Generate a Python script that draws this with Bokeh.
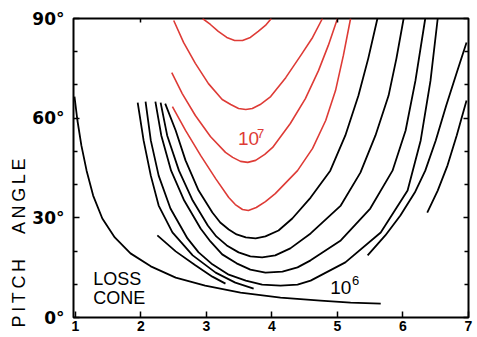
from bokeh.plotting import figure
from bokeh.models import Range1d, FixedTicker, LinearAxis, Label
from bokeh.embed import file_html
from bokeh.resources import INLINE

# ---- data (L shell vs equatorial pitch angle, degrees) ----
x_ticks = [1, 2, 3, 4, 5, 6, 7]
y_ticks = [0, 30, 60, 90]
y_tick_labels = ["0°", "30°", "60°", "90°"]
y_minor = [10, 20, 40, 50, 70, 80]

# red contours (>= 1e7)
r1_L = [2.94, 3.06, 3.18, 3.31, 3.43, 3.55, 3.67, 3.79, 3.90, 3.99]
r1_a = [90.0, 88.2, 86.1, 84.3, 83.4, 83.4, 84.3, 86.1, 87.9, 90.0]
r2_L = [2.50, 2.65, 2.83, 3.03, 3.24, 3.37, 3.49, 3.60, 3.70, 3.82, 3.98, 4.21, 4.44, 4.62, 4.77]
r2_a = [89.4, 82.8, 76.5, 70.4, 65.6, 64.1, 62.9, 62.6, 62.9, 64.1, 66.5, 72.2, 78.9, 84.3, 90.0]
r3_L = [2.47, 2.63, 2.83, 3.06, 3.29, 3.40, 3.52, 3.63, 3.75, 3.89, 4.01, 4.28, 4.51, 4.71, 4.86, 5.00]
r3_a = [73.7, 67.4, 60.8, 54.5, 49.7, 48.2, 47.0, 46.7, 47.3, 49.1, 51.2, 58.4, 65.9, 74.3, 81.9, 90.0]
r4_L = [2.48, 2.68, 2.91, 3.14, 3.34, 3.44, 3.55, 3.64, 3.76, 3.90, 4.05, 4.39, 4.62, 4.82, 4.97, 5.09, 5.20]
r4_a = [63.5, 56.3, 48.8, 41.8, 36.1, 34.0, 32.5, 32.2, 33.1, 34.9, 37.3, 44.2, 50.9, 59.3, 68.3, 78.9, 90.0]

# black contours
b1_L = [2.37, 2.53, 2.68, 2.88, 3.09, 3.21, 3.34, 3.46, 3.60, 3.75, 3.90, 4.10, 4.31, 4.59,
        4.89, 5.12, 5.32, 5.47, 5.61]
b1_a = [64.4, 56.3, 47.3, 38.2, 31.6, 28.6, 26.5, 25.0, 24.1, 23.8, 24.4, 26.2, 29.8, 36.1,
        44.2, 54.8, 66.8, 78.0, 90.0]
b2_L = [2.30, 2.40, 2.58, 2.79, 3.02, 3.15, 3.31, 3.49, 3.67, 3.85, 4.05, 4.28, 4.59,
        5.05, 5.35, 5.58, 5.78, 5.90, 6.01]
b2_a = [64.7, 54.8, 44.2, 35.2, 27.7, 24.4, 21.7, 19.6, 18.4, 18.1, 18.7, 20.8, 25.3,
        33.7, 43.6, 54.8, 66.8, 78.0, 90.0]
b3_L = [2.22, 2.31, 2.46, 2.66, 2.91, 3.06, 3.24, 3.46, 3.67, 3.90, 4.16, 4.39, 4.59,
        5.05, 5.50, 5.84, 6.04, 6.19, 6.34]
b3_a = [65.0, 54.8, 44.2, 35.2, 26.8, 22.9, 19.0, 16.3, 14.4, 13.5, 13.8, 15.1, 17.2,
        23.2, 32.8, 44.2, 56.3, 71.3, 90.0]
b4_L = [2.07, 2.15, 2.27, 2.45, 2.71, 2.88, 3.09, 3.34, 3.60, 3.85, 4.13, 4.39, 4.59,
        5.12, 5.66, 6.07, 6.27, 6.42, 6.53]
b4_a = [65.0, 53.3, 42.7, 32.8, 23.8, 19.6, 16.0, 12.9, 11.1, 9.9, 9.6, 9.9, 11.1,
        16.6, 25.6, 38.2, 53.3, 71.3, 90.0]
k1_L = [1.95, 2.04, 2.15, 2.27, 2.48, 2.79, 3.14, 3.44, 3.72]
k1_a = [64.7, 53.3, 42.7, 33.7, 25.6, 18.7, 13.5, 10.5, 8.7]
s1_L = [2.25, 2.53, 2.83, 3.09, 3.29]
s1_a = [24.7, 19.9, 15.7, 12.3, 10.2]
a_L = [5.46, 5.73, 5.96, 6.18, 6.34, 6.50, 6.66, 6.82, 6.97]
a_a = [18.7, 24.7, 30.7, 37.6, 44.2, 53.3, 63.8, 73.7, 82.8]
c_L = [6.37, 6.53, 6.68, 6.82, 6.97]
c_a = [31.6, 38.2, 45.8, 54.8, 65.3]
lc_L = [0.985, 1.03, 1.09, 1.17, 1.27, 1.41, 1.60, 1.84, 2.15, 2.53, 2.98, 3.52, 4.13, 4.74, 5.20, 5.66]
lc_a = [66.5, 59.3, 51.8, 44.2, 36.7, 29.8, 24.1, 19.3, 15.4, 12.0, 9.6, 7.5, 6.0, 5.1, 4.5, 4.2]

red_curves = [(r1_L, r1_a), (r2_L, r2_a), (r3_L, r3_a), (r4_L, r4_a)]
black_curves = [(b1_L, b1_a), (b2_L, b2_a), (b3_L, b3_a), (b4_L, b4_a),
                (k1_L, k1_a), (s1_L, s1_a), (a_L, a_a), (c_L, c_a), (lc_L, lc_a)]

RED = "#de3b36"
FONT = "Liberation Sans"
NB = "\u00a0"
TS = "\u2009"

p = figure(width=477, height=337, output_backend="svg", toolbar_location=None,
           x_range=Range1d(0.97, 7.0), y_range=Range1d(0, 90),
           min_border_left=73, min_border_right=9, min_border_top=18, min_border_bottom=20)
p.background_fill_color = "white"
p.border_fill_color = "white"
p.grid.visible = False
p.outline_line_color = "black"
p.outline_line_width = 2

for xs, ys in red_curves:
    p.line(xs, ys, line_color=RED, line_width=1.6, line_join="round")
for xs, ys in black_curves:
    p.line(xs, ys, line_color="black", line_width=1.8, line_join="round")

# axes
xt = FixedTicker(ticks=x_ticks, minor_ticks=[])
yt = FixedTicker(ticks=y_ticks, minor_ticks=y_minor)

xa = p.xaxis[0]
xa.ticker = xt
ya = p.yaxis[0]
ya.ticker = yt
ya.major_label_overrides = {t: s for t, s in zip(y_ticks, y_tick_labels)}
for ax in (xa, ya):
    ax.axis_line_color = None
    ax.major_tick_in = 6
    ax.major_tick_out = 0
    ax.minor_tick_in = 4
    ax.minor_tick_out = 0
    ax.major_tick_line_width = 1.5
    ax.minor_tick_line_width = 1.5
    ax.major_label_text_font_style = "bold"
    ax.major_label_text_color = "black"
xa.major_label_text_font = FONT
xa.major_label_text_font_size = "14px"
xa.major_label_standoff = 3
ya.major_label_text_font = "DejaVu Sans"
ya.major_label_text_font_size = "17px"
ya.major_label_standoff = 9

ya.axis_label = TS.join("PITCH") + NB * 5 + TS.join("ANGLE") + NB * 30
ya.axis_label_text_font = FONT
ya.axis_label_text_font_style = "normal"
ya.axis_label_text_font_size = "18px"
ya.axis_label_text_color = "black"
ya.axis_label_standoff = 0

ra = LinearAxis(ticker=yt, axis_line_color=None, major_tick_in=5, major_tick_out=0,
                minor_tick_in=4, minor_tick_out=0, major_label_text_color=None,
                major_tick_line_width=1.5, minor_tick_line_width=1.5)
p.add_layout(ra, "right")
ta = LinearAxis(ticker=FixedTicker(ticks=[2, 5]), axis_line_color=None, major_tick_in=4,
                major_tick_out=0, major_label_text_color=None, major_tick_line_width=1.5)
p.add_layout(ta, "above")

# texts
for txt, yy in (("LOSS", 11.7), ("CONE", 6.0)):
    p.add_layout(Label(x=1.27, y=yy, text=txt, text_font=FONT, text_font_size="18px",
                       text_baseline="alphabetic", text_color="black"))
p.add_layout(Label(x=3.48, y=53.8, text="10", text_font=FONT, text_font_size="19px",
                   text_baseline="alphabetic", text_color=RED))
p.add_layout(Label(x=3.77, y=55.5, text="7", text_font=FONT, text_font_size="13px",
                   text_baseline="alphabetic", text_color=RED))
p.add_layout(Label(x=4.89, y=9.0, text="10", text_font=FONT, text_font_size="19px",
                   text_baseline="alphabetic", text_color="black"))
p.add_layout(Label(x=5.22, y=11.1, text="6", text_font=FONT, text_font_size="13px",
                   text_baseline="alphabetic", text_color="black"))

open("out.html", "w").write(file_html(p, INLINE))
